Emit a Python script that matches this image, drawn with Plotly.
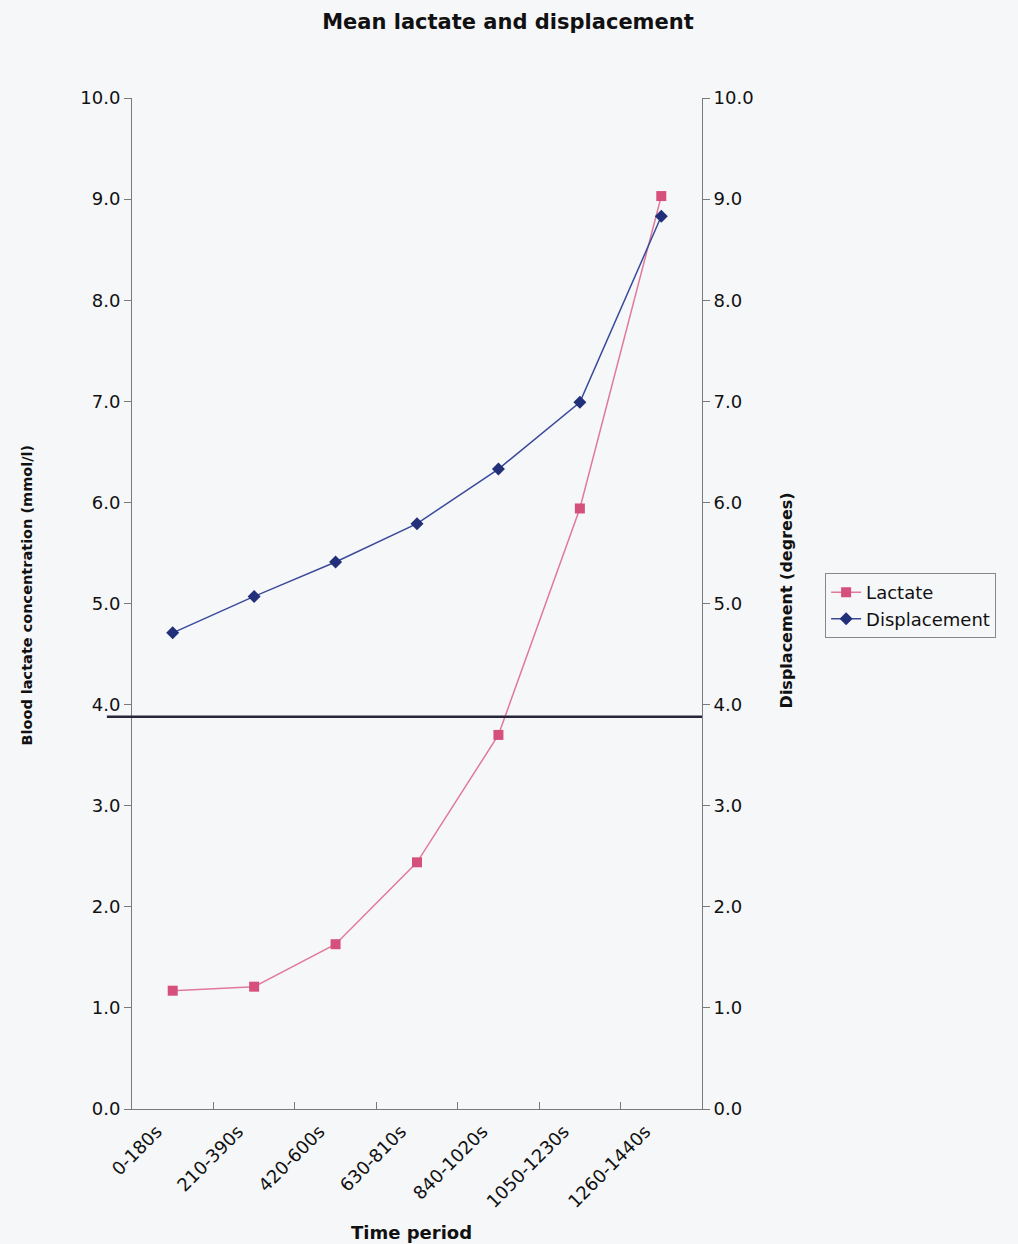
import plotly.graph_objects as go

categories = ["0-180s", "210-390s", "420-600s", "630-810s", "840-1020s", "1050-1230s", "1260-1440s"]
lactate = [1.17, 1.21, 1.63, 2.44, 3.70, 5.94, 9.03]
displacement = [4.71, 5.07, 5.41, 5.79, 6.33, 6.99, 8.83]
threshold = 3.88
y_ticks = [0, 1, 2, 3, 4, 5, 6, 7, 8, 9, 10]

FONT = "DejaVu Sans"
AX = "#7a7a7a"
BG = "#f6f7f9"

fig = go.Figure()
fig.add_trace(go.Scatter(
    x=categories, y=lactate, name="Lactate", mode="lines+markers",
    line=dict(color="#e07a9a", width=1.5),
    marker=dict(symbol="square", size=10, color="#d6507c"),
    yaxis="y"))
fig.add_trace(go.Scatter(
    x=categories, y=displacement, name="Displacement", mode="lines+markers",
    line=dict(color="#3a4a9a", width=1.5),
    marker=dict(symbol="diamond", size=10, color="#22307a"),
    yaxis="y2"))

fig.add_shape(type="line", xref="paper", yref="y", x0=-0.044, x1=1.0,
              y0=threshold, y1=threshold, line=dict(color="#262638", width=2.5))

axis_common = dict(range=[0, 10], tickvals=y_ticks, tickformat=".1f",
                   showgrid=False, zeroline=False, showline=True, linecolor=AX,
                   linewidth=1, ticks="outside", ticklen=7, tickcolor=AX,
                   tickfont=dict(family=FONT, size=18, color="#111"))

fig.update_layout(
    width=1010, height=1236,
    paper_bgcolor=BG, plot_bgcolor=BG,
    margin=dict(l=124, r=316, t=90, b=135),
    title=dict(text="<b>Mean lactate and displacement</b>", x=0.495, xref="container",
               y=1 - 14 / 1236, yref="container", yanchor="middle", xanchor="center",
               font=dict(family=FONT, size=21, color="#111")),
    xaxis=dict(type="category", range=[-0.5, 6.5], tickson="boundaries",
               ticks="inside", ticklen=7, tickcolor=AX, showline=True, linecolor=AX,
               linewidth=1, showgrid=False, tickangle=-45,
               ticklabelshift=-16, ticklabelstandoff=4,
               tickfont=dict(family=FONT, size=18, color="#111")),
    yaxis=dict(side="left", **axis_common),
    yaxis2=dict(side="right", overlaying="y", anchor="x", **axis_common),
    legend=dict(x=1.216, y=0.53, xanchor="left", yanchor="top",
                bgcolor="rgba(0,0,0,0)", bordercolor="#888", borderwidth=1,
                font=dict(family=FONT, size=18, color="#111"), tracegroupgap=0),
    showlegend=True,
)

fig.add_annotation(text="<b>Time period</b>", xref="paper", yref="paper",
                   x=0.49, y=-0.1217, xanchor="center", yanchor="middle",
                   showarrow=False, font=dict(family=FONT, size=18, color="#111"))
fig.add_annotation(text="<b>Blood lactate concentration (mmol/l)</b>", xref="paper", yref="paper",
                   x=-0.184, y=0.508, xanchor="center", yanchor="middle", textangle=-90,
                   showarrow=False, font=dict(family=FONT, size=14.5, color="#111"))
fig.add_annotation(text="<b>Displacement (degrees)</b>", xref="paper", yref="paper",
                   x=1.149, y=0.503, xanchor="center", yanchor="middle", textangle=-90,
                   showarrow=False, font=dict(family=FONT, size=16, color="#111"))

fig.write_html("out.html", post_script="document.body.style.background='%s';" % BG)
